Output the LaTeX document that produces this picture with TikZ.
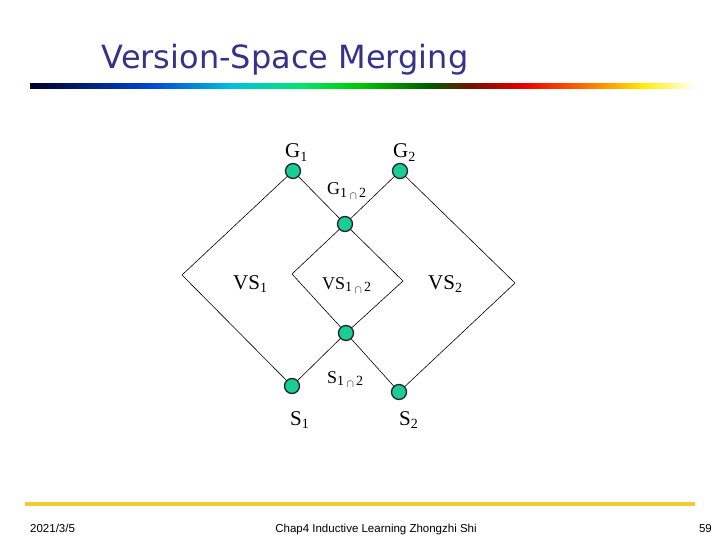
\documentclass[tikz,border=0pt]{standalone}
\usepackage{fontspec}
\setmainfont{Liberation Serif}
\newfontfamily\titlefont{DejaVu Sans}
\newfontfamily\footfont{Liberation Sans}
\definecolor{titleblue}{RGB}{51,51,140}
\definecolor{dotfill}{RGB}{26,204,150}
\definecolor{footline}{RGB}{240,205,50}
\newcommand{\mysubA}[1]{\raisebox{-0.35ex}{\fontsize{14}{14}\selectfont #1}}
\newcommand{\mycap}{\,\raisebox{-0.2ex}{\fontsize{11}{11}\selectfont$\cap$}\,}
\tikzset{
  dot/.style={circle, fill=dotfill, draw=black!85, line width=1.3pt, minimum size=15pt, inner sep=0pt},
  edge/.style={draw=black, line width=0.6pt},
  lbl/.style={anchor=base west, inner sep=0pt, font=\fontsize{21}{21}\selectfont},
  slbl/.style={anchor=base west, inner sep=0pt, font=\fontsize{18}{18}\selectfont},
}
\begin{document}
\begin{tikzpicture}[x=1pt,y=-1pt]
\useasboundingbox (0,0) rectangle (720,540);
\fill[white] (0,0) rectangle (720,540);
% title
\node[anchor=base, inner sep=0pt, text=titleblue, font=\titlefont\fontsize{32}{32}\selectfont] (title) at (285,69) {Version-Space Merging};
% rainbow bar
\shade[left color={rgb,255:red,0;green,0;blue,40}, right color={rgb,255:red,0;green,70;blue,210}] (30,84) rectangle (150,89);
\shade[left color={rgb,255:red,0;green,70;blue,210}, right color={rgb,255:red,0;green,190;blue,225}] (149.5,84) rectangle (230,89);
\shade[left color={rgb,255:red,0;green,190;blue,225}, right color={rgb,255:red,0;green,230;blue,110}] (229.5,84) rectangle (300,89);
\shade[left color={rgb,255:red,0;green,230;blue,110}, right color={rgb,255:red,0;green,200;blue,0}] (299.5,84) rectangle (360,89);
\shade[left color={rgb,255:red,0;green,200;blue,0}, right color={rgb,255:red,0;green,90;blue,0}] (359.5,84) rectangle (430,89);
\shade[left color={rgb,255:red,0;green,90;blue,0}, right color={rgb,255:red,110;green,20;blue,0}] (429.5,84) rectangle (470,89);
\shade[left color={rgb,255:red,110;green,20;blue,0}, right color={rgb,255:red,235;green,0;blue,0}] (469.5,84) rectangle (525,89);
\shade[left color={rgb,255:red,235;green,0;blue,0}, right color={rgb,255:red,255;green,140;blue,0}] (524.5,84) rectangle (600,89);
\shade[left color={rgb,255:red,255;green,140;blue,0}, right color={rgb,255:red,255;green,240;blue,0}] (599.5,84) rectangle (645,89);
\shade[left color={rgb,255:red,255;green,240;blue,0}, right color=white] (644.5,84) rectangle (695,89);
% nodes
\node[dot] (g1) at (293,171) {};
\node[dot] (g2) at (400,171) {};
\node[dot] (gi) at (345,224) {};
\node[dot] (si) at (346,333) {};
\node[dot] (s1) at (292,386) {};
\node[dot] (s2) at (399,392) {};
\coordinate (lc) at (182,275);
\coordinate (rc) at (515,283);
\coordinate (ilc) at (292,274);
\coordinate (irc) at (403,281);
% edges
\draw[edge] (g1) -- (lc) -- (s1);
\draw[edge] (g2) -- (rc) -- (s2);
\draw[edge] (g1) -- (gi);
\draw[edge] (g2) -- (gi);
\draw[edge] (gi) -- (ilc) -- (si);
\draw[edge] (gi) -- (irc) -- (si);
\draw[edge] (si) -- (s1);
\draw[edge] (si) -- (s2);
% labels
\node[lbl] (lg1) at (285,158) {G\mysubA{1}};
\node[lbl] (lg2) at (393,158) {G\mysubA{2}};
\node[slbl] (lgi) at (327,195) {G\mysubA{1\mycap2}};
\node[lbl] (lvs1) at (233,289) {VS\mysubA{1}};
\node[slbl] (lvsi) at (322,289) {VS\mysubA{1\mycap2}};
\node[lbl] (lvs2) at (428,289) {VS\mysubA{2}};
\node[slbl] (lsi) at (327,383) {S\mysubA{1\mycap2}};
\node[lbl] (ls1) at (290,425) {S\mysubA{1}};
\node[lbl] (ls2) at (399,425) {S\mysubA{2}};
% footer
\draw[footline, line width=4pt] (25,504) -- (695,504);
\node[anchor=base west, inner sep=0pt, font=\footfont\fontsize{11.5}{11.5}\selectfont] (date) at (30,532) {2021/3/5};
\node[anchor=base, inner sep=0pt, font=\footfont\fontsize{11.5}{11.5}\selectfont] (foot) at (376,532) {Chap4 Inductive Learning Zhongzhi Shi};
\node[anchor=base east, inner sep=0pt, font=\footfont\fontsize{11.5}{11.5}\selectfont] (page) at (712,532) {59};
\end{tikzpicture}
\end{document}
